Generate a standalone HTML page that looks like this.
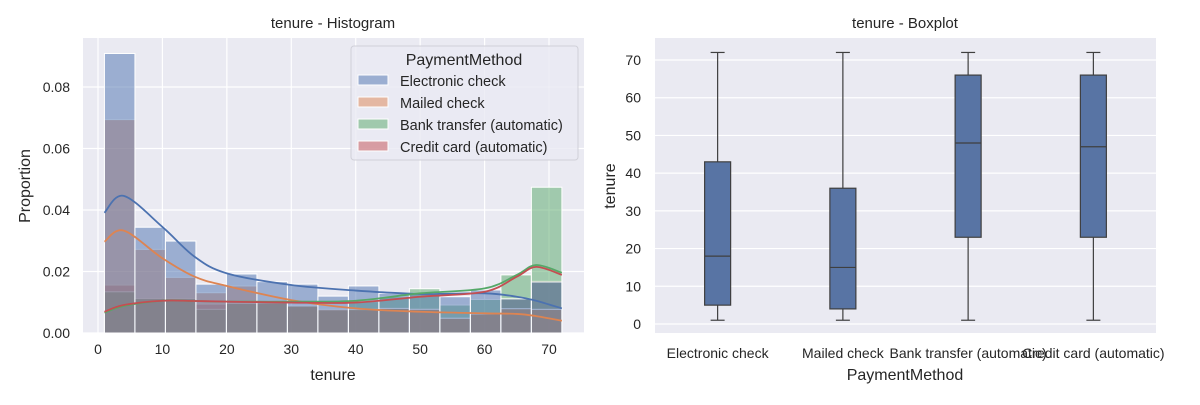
<!DOCTYPE html>
<html><head><meta charset="utf-8"><style>
body{margin:0;background:#fff;}
svg text{font-family:"Liberation Sans",sans-serif;fill:#262626;}
</style></head><body>
<svg id="c" width="1200" height="400" xmlns="http://www.w3.org/2000/svg"></svg>
<script>
const histBinStart = 1, histBinWidth = 71/15;
const electronicHist = [0.0909,0.0344,0.0299,0.0159,0.0192,0.0167,0.0159,0.0120,0.0153,0.0129,0.0129,0.0118,0.0140,0.0111,0.0166];
const mailedHist = [0.0694,0.0272,0.0181,0.0131,0.0153,0.0098,0.0088,0.0077,0.0077,0.0080,0.0077,0.0048,0.0062,0.0079,0.0077];
const bankHist = [0.0134,0.0112,0.0112,0.0077,0.0096,0.0102,0.0088,0.0075,0.0102,0.0118,0.0144,0.0091,0.0109,0.0189,0.0474];
const creditHist = [0.0156,0.0112,0.0112,0.0094,0.0102,0.0102,0.0088,0.0075,0.0075,0.0080,0.0080,0.0048,0.0062,0.0114,0.0170];
const kdeX = [1,4,10,15,20,30,40,50,60,65,68,72];
const electronicKde = [0.0391,0.0446,0.0345,0.0248,0.0194,0.0156,0.0138,0.0127,0.0129,0.0118,0.0105,0.0080];
const mailedKde = [0.0297,0.0333,0.0243,0.0183,0.0153,0.0107,0.0080,0.0069,0.0064,0.0062,0.0055,0.0040];
const bankKde = [0.0066,0.0088,0.0105,0.0104,0.0102,0.0102,0.0105,0.0129,0.0145,0.0189,0.0221,0.0196];
const creditKde = [0.0069,0.0091,0.0105,0.0104,0.0102,0.0099,0.0099,0.0118,0.0134,0.0183,0.0215,0.0189];
const histYTicks = [0,0.02,0.04,0.06,0.08];
const histXTicks = [0,10,20,30,40,50,60,70];
const boxCats = ["Electronic check","Mailed check","Bank transfer (automatic)","Credit card (automatic)"];
const boxMin = [1,1,1,1];
const boxQ1 = [5,4,23,23];
const boxMed = [18,15,48,47];
const boxQ3 = [43,36,66,66];
const boxMax = [72,72,72,72];
const boxYTicks = [0,10,20,30,40,50,60,70];

const NS="http://www.w3.org/2000/svg", svg=document.getElementById('c');
function mk(tag,attrs,parent,text){const e=document.createElementNS(NS,tag);for(const k in attrs)e.setAttribute(k,attrs[k]);if(text!==undefined)e.textContent=text;(parent||svg).appendChild(e);return e;}

const L={x0:83,x1:584,y0:38,y1:333};
const hx=v=>98+v*(549-98)/70, hy=v=>333-v*(333-87)/0.08;
const g1=mk('g',{});

mk('rect',{x:L.x0,y:L.y0,width:L.x1-L.x0,height:L.y1-L.y0,fill:'#eaeaf2'},g1);
histXTicks.forEach(t=>{mk('line',{x1:hx(t),x2:hx(t),y1:L.y0,y2:L.y1,stroke:'#fff','stroke-width':1.2},g1);
 const e=mk('text',{x:hx(t),y:354,'font-size':14,'text-anchor':'middle'},g1,String(t));});
histYTicks.forEach(t=>{mk('line',{x1:L.x0,x2:L.x1,y1:hy(t),y2:hy(t),stroke:'#fff','stroke-width':1.2},g1);
 const e=mk('text',{x:70,y:hy(t)+5,'font-size':14,'text-anchor':'end'},g1,t.toFixed(2));});
const series=[["electronic",electronicHist,electronicKde,'#4c72b0'],["mailed",mailedHist,mailedKde,'#dd8452'],["bank",bankHist,bankKde,'#55a868'],["credit",creditHist,creditKde,'#c44e52']];
series.slice().reverse().forEach(([n,h,k,c])=>{h.forEach((v,i)=>{const xa=hx(histBinStart+i*histBinWidth),xb=hx(histBinStart+(i+1)*histBinWidth);
 const r=mk('rect',{x:xa,y:hy(v),width:xb-xa,height:hy(0)-hy(v),fill:c,'fill-opacity':0.5,stroke:'#fff','stroke-width':1},g1);
 });});
series.forEach(([n,h,k,c])=>{const pts=kdeX.map((x,i)=>[hx(x),hy(k[i])]);
 let d='M'+pts[0].join(',');for(let i=0;i<pts.length-1;i++){const p0=pts[i-1]||pts[i],p1=pts[i],p2=pts[i+1],p3=pts[i+2]||p2;
 d+=` C${p1[0]+(p2[0]-p0[0])/6},${p1[1]+(p2[1]-p0[1])/6} ${p2[0]-(p3[0]-p1[0])/6},${p2[1]-(p3[1]-p1[1])/6} ${p2[0]},${p2[1]}`;}
 const p=mk('path',{d,fill:'none',stroke:c,'stroke-width':1.8},g1);});
let e=mk('text',{x:333,y:28,'font-size':15,'text-anchor':'middle'},g1,'tenure - Histogram');
e=mk('text',{x:333,y:380,'font-size':16,'text-anchor':'middle'},g1,'tenure');
e=mk('text',{x:30,y:186,'font-size':16,'text-anchor':'middle',transform:'rotate(-90 30 186)'},g1,'Proportion');
const lg=mk('g',{},g1);
mk('rect',{x:351,y:46,width:227,height:114,rx:3,fill:'#eaeaf2','fill-opacity':0.8,stroke:'#d0d0d8'},lg);
mk('text',{x:464,y:65,'font-size':16,'text-anchor':'middle'},lg,'PaymentMethod');
["Electronic check","Mailed check","Bank transfer (automatic)","Credit card (automatic)"].forEach((t,i)=>{
 const it=mk('g',{},lg);
 mk('rect',{x:358,y:75+i*22,width:30,height:10,fill:series[i][3],'fill-opacity':0.5,stroke:'#fff'},it);
 mk('text',{x:400,y:86+i*22,'font-size':14.5},it,t);});

const R={x0:655,x1:1156,y0:38,y1:333};
const by=v=>324-v*(324-60)/70, step=(R.x1-R.x0)/boxCats.length, bx=i=>R.x0+step*(i+0.5);
const g2=mk('g',{});
mk('rect',{x:R.x0,y:R.y0,width:R.x1-R.x0,height:R.y1-R.y0,fill:'#eaeaf2'},g2);
boxYTicks.forEach(t=>{mk('line',{x1:R.x0,x2:R.x1,y1:by(t),y2:by(t),stroke:'#fff','stroke-width':1.2},g2);
 const e=mk('text',{x:641,y:by(t)+5,'font-size':14,'text-anchor':'end'},g2,String(t));});
boxCats.forEach((c,i)=>{const x=bx(i),w=26;const b=mk('g',{},g2);
 const s={stroke:'#3f3f3f','stroke-width':1.2};
 mk('line',{x1:x,x2:x,y1:by(boxMax[i]),y2:by(boxQ3[i]),...s},b);
 mk('line',{x1:x,x2:x,y1:by(boxQ1[i]),y2:by(boxMin[i]),...s},b);
 mk('line',{x1:x-7,x2:x+7,y1:by(boxMax[i]),y2:by(boxMax[i]),...s},b);
 mk('line',{x1:x-7,x2:x+7,y1:by(boxMin[i]),y2:by(boxMin[i]),...s},b);
 mk('rect',{x:x-w/2,y:by(boxQ3[i]),width:w,height:by(boxQ1[i])-by(boxQ3[i]),fill:'#5874a4',...s},b);
 mk('line',{x1:x-w/2,x2:x+w/2,y1:by(boxMed[i]),y2:by(boxMed[i]),...s},b);
 const t=mk('text',{x:x,y:358,'font-size':14,'text-anchor':'middle'},g2,c);});
e=mk('text',{x:905,y:28,'font-size':15,'text-anchor':'middle'},g2,'tenure - Boxplot');
e=mk('text',{x:905,y:380,'font-size':16,'text-anchor':'middle'},g2,'PaymentMethod');
e=mk('text',{x:615,y:186,'font-size':16,'text-anchor':'middle',transform:'rotate(-90 615 186)'},g2,'tenure');
</script>
</body></html>
